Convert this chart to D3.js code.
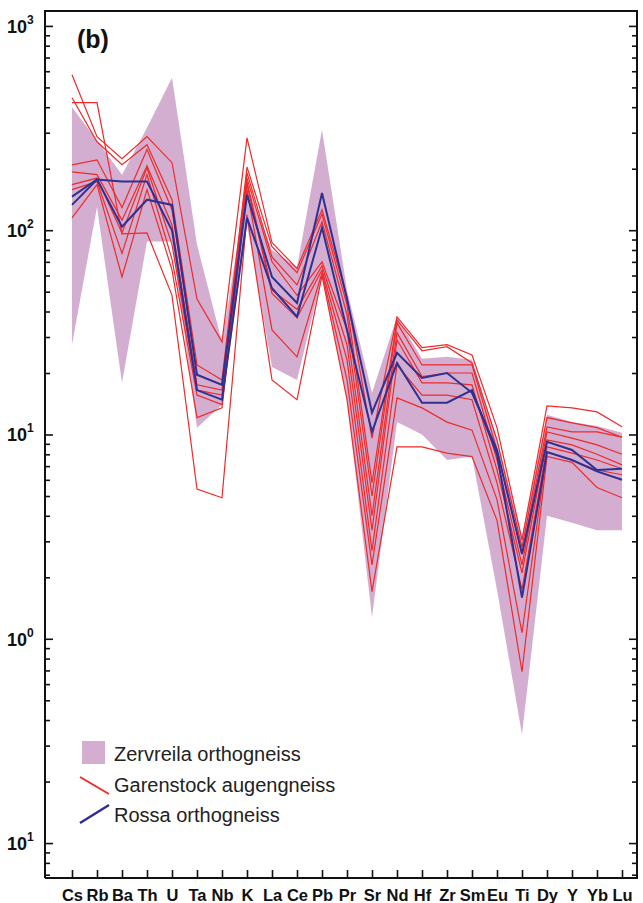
<!DOCTYPE html>
<meta charset="utf-8">
<style>
  body { margin: 0; background: #fff; }
  svg { font-family: Arial, "Liberation Sans", sans-serif; }
</style>
<svg width="643" height="903"></svg>
<script src="https://cdn.jsdelivr.net/npm/d3@7"></script>
<script>

// elements along the x axis
var elements = ["Cs","Rb","Ba","Th","U","Ta","Nb","K","La","Ce","Pb","Pr","Sr","Nd","Hf","Zr","Sm","Eu","Ti","Dy","Y","Yb","Lu"];

// Zervreila orthogneiss field (upper / lower limits)
var zervUpper = [400, 275, 187, 317, 557, 85, 28.4, 167, 80, 66, 310, 51, 16, 37.7, 23.5, 24, 23.2, 9.4, 3.2, 12.5, 11.5, 11.0, 10.2];
var zervLower = [27.5, 130, 17.9, 88, 88, 10.8, 14.0, 106, 21.4, 18.5, 59, 14.8, 1.27, 11.5, 10, 7.5, 7.8, 1.74, 0.34, 4.0, 3.7, 3.4, 3.4];

// Garenstock augengneiss samples
var gar1 = [577, 287, 224, 287, 214, 46, 28.4, 283, 87, 65, 126, 47, 9.6, 37.7, 26.6, 27.5, 24.5, 10.8, 3.05, 13.8, 13.5, 12.9, 10.9];
var gar2 = [445, 271, 209, 262, 141, 21.9, 18.5, 204, 83, 62, 120, 43, 5.8, 36.4, 25.7, 26.9, 22.4, 9.4, 2.8, 12.1, 11.4, 10.8, 9.7];
var gar3 = [209, 221, 129, 248, 126, 19.6, 17.5, 191, 74, 54, 110, 38.5, 5.0, 35.2, 21.9, 21.9, 21.9, 8.4, 2.6, 10.9, 10.3, 10.3, 9.7];
var gar4 = [193, 187, 112, 207, 106, 17.5, 16.5, 180, 70, 48, 70, 32.5, 4.0, 31.5, 19.2, 20, 20, 7.5, 2.3, 10.3, 9.6, 8.9, 8.0];
var gar5 = [167, 180, 97, 202, 85, 16.5, 15.6, 173, 51, 41, 67, 27.5, 3.4, 29.1, 17.9, 17.9, 17.5, 6.7, 2.1, 9.4, 8.9, 8.0, 7.1];
var gar6 = [158, 173, 77, 187, 72, 15.6, 14.0, 167, 49, 37.3, 64, 23.2, 2.7, 21.9, 15.6, 15.6, 14.8, 5.8, 1.74, 8.7, 8.1, 7.5, 6.8];
var gar7 = [115, 167, 59, 158, 64, 12.1, 13.5, 158, 32.5, 24, 62, 18.5, 2.3, 15.1, 13.5, 11.5, 10.5, 4.8, 1.07, 8.2, 7.5, 6.7, 6.35];
var gar8 = [421, 421, 96, 97, 48, 5.4, 4.9, 119, 18.5, 14.8, 60, 14.8, 1.7, 8.7, 8.7, 8.1, 7.8, 3.8, 0.69, 7.8, 7.3, 5.5, 4.9];

// Rossa orthogneiss samples
var ros1 = [146, 177, 104, 141, 133, 19.6, 17.5, 149, 59, 44, 152, 46, 12.8, 25.1, 18.9, 20, 16, 8.4, 2.6, 9.2, 8.4, 6.7, 6.8];
var ros2 = [133, 177, 173, 173, 100, 16.5, 14.8, 115, 52, 37.7, 103, 32.5, 10.3, 22.4, 14.3, 14.3, 16.5, 8.0, 1.59, 8.2, 7.5, 6.6, 6.0];

var garenstock = [gar1, gar2, gar3, gar4, gar5, gar6, gar7, gar8];
var rossa = [ros1, ros2];

// axis tick labels
var yTickValues = [0.1, 1, 10, 100, 1000];
var yTickExp = ["1", "0", "1", "2", "3"];

var legendLabels = ["Zervreila orthogneiss", "Garenstock augengneiss", "Rossa orthogneiss"];

var svg = d3.select("svg"),
    plotLeft = 45, plotRight = 637, plotTop = 11, plotBottom = 878;

var x = d3.scalePoint().domain(elements).range([72, 622]);
var y = d3.scaleLog().domain([Math.pow(10, -1.171), Math.pow(10, 3.073)]).range([plotBottom, plotTop]);

var purple = "#d4aed1", red = "#ee2a2a", blue = "#2e3192";

// the field
var field = elements.map(function(e, i) { return {el: e, lo: zervLower[i], hi: zervUpper[i]}; });
var area = d3.area()
    .x(function(d) { return x(d.el); })
    .y0(function(d) { return y(d.lo); })
    .y1(function(d) { return y(d.hi); });
svg.append("path")
    .attr("d", area(field))
    .attr("fill", purple);

var line = d3.line()
    .x(function(d, i) { return x(elements[i]); })
    .y(function(d) { return y(d); });

svg.selectAll(".gar")
    .data(garenstock)
  .enter().append("path")
    .attr("class", "gar")
    .attr("d", line)
    .attr("fill", "none")
    .attr("stroke", red)
    .attr("stroke-width", 1.2);

svg.selectAll(".ros")
    .data(rossa)
  .enter().append("path")
    .attr("class", "ros")
    .attr("d", line)
    .attr("fill", "none")
    .attr("stroke", blue)
    .attr("stroke-width", 2);

// minor ticks 2..9 in every decade
var minor = [];
for (var p = -2; p <= 3; p++) {
  for (var m = 2; m <= 9; m++) {
    var v = m * Math.pow(10, p);
    if (v > y.domain()[0] && v < y.domain()[1]) minor.push(v);
  }
}

function yAxis(g, axis) {
  g.append("g").call(axis(y).tickValues(yTickValues).tickSize(8).tickFormat(""));
  g.append("g").call(axis(y).tickValues(minor).tickSize(5).tickFormat(""));
  g.selectAll(".domain").remove();
  g.selectAll("line").attr("stroke", "#111").attr("stroke-width", 1.6);
}

svg.append("g").attr("transform", "translate(" + plotLeft + ",0)").call(yAxis, d3.axisRight);
svg.append("g").attr("transform", "translate(" + plotRight + ",0)").call(yAxis, d3.axisLeft);

// bottom axis
var xg = svg.append("g")
    .attr("transform", "translate(0," + plotBottom + ")")
    .call(d3.axisBottom(x).tickSize(-8).tickPadding(11.5));
xg.select(".domain").remove();
xg.selectAll("line").attr("stroke", "#111").attr("stroke-width", 1.6);
xg.selectAll("text")
    .attr("font-family", "Arial, 'Liberation Sans', sans-serif")
    .attr("font-size", 16.5)
    .attr("font-weight", "bold")
    .attr("fill", "#111");

// frame
svg.append("path")
    .attr("d", "M" + plotLeft + "," + plotBottom + "V" + plotTop + "H" + plotRight + "V" + plotBottom + "H" + plotLeft)
    .attr("fill", "none")
    .attr("stroke", "#111")
    .attr("stroke-width", 2);

// y labels
var yl = svg.selectAll(".ylab")
    .data(yTickValues)
  .enter().append("text")
    .attr("class", "ylab")
    .attr("x", 7)
    .attr("y", function(d) { return y(d) + 7; })
    .attr("font-size", 18)
    .attr("font-weight", "bold")
    .attr("fill", "#111");
yl.append("tspan").text("10");
yl.append("tspan")
    .attr("font-size", 12)
    .attr("dy", -9)
    .text(function(d, i) { return yTickExp[i]; });

svg.append("text")
    .attr("x", 77)
    .attr("y", 48)
    .attr("font-size", 25)
    .attr("font-weight", "bold")
    .attr("fill", "#111")
    .text("(b)");

// legend
svg.append("rect")
    .attr("x", 82).attr("y", 741)
    .attr("width", 23).attr("height", 23)
    .attr("fill", purple);
svg.append("line")
    .attr("x1", 80).attr("y1", 777).attr("x2", 109).attr("y2", 794)
    .attr("stroke", red).attr("stroke-width", 2);
svg.append("line")
    .attr("x1", 80).attr("y1", 823).attr("x2", 109).attr("y2", 805)
    .attr("stroke", blue).attr("stroke-width", 2.5);

svg.selectAll(".leg")
    .data(legendLabels)
  .enter().append("text")
    .attr("class", "leg")
    .attr("x", 114)
    .attr("y", function(d, i) { return 761 + i * 30.5; })
    .attr("font-size", 20)
    .attr("fill", "#222")
    .text(function(d) { return d; });

</script>
